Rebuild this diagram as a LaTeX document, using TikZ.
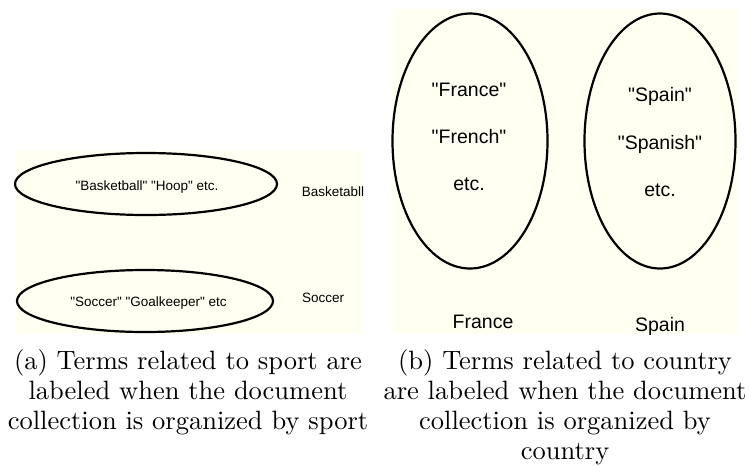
\documentclass[tikz,border=0pt]{standalone}
\usepackage{fontspec}
\newfontfamily\arialf{Liberation Sans}
\usetikzlibrary{shapes.geometric}
\definecolor{bgcream}{RGB}{255,255,242}
\newcommand{\capline}[1]{\scalebox{2.65}{\fontsize{10}{12}\selectfont #1}}
\tikzset{
  oval/.style={ellipse, draw=black, line width=2.2pt, inner sep=0pt},
  smalltxt/.style={font=\arialf\fontsize{13.5}{16}\selectfont, inner sep=0pt, anchor=base},
  bigtxt/.style={font=\arialf\fontsize{19.5}{23}\selectfont, inner sep=0pt, anchor=base},
  captxt/.style={inner sep=0pt, anchor=base},
}
\begin{document}
\begin{tikzpicture}[x=1pt,y=-1pt]
\useasboundingbox (0,0) rectangle (749,472);
% panel backgrounds
\fill[bgcream] (15,151) rectangle (362,334);
\fill[bgcream] (392,9) rectangle (738,334);
% panel (a)
\node[oval, minimum width=262pt, minimum height=62pt] (bask) at (146,184) {};
\node[oval, minimum width=256pt, minimum height=62pt] (socc) at (145,301) {};
\node[smalltxt] (baskt) at (147,190.7) {"Basketball" "Hoop" etc.};
\node[smalltxt] (socct) at (148.5,306.7) {"Soccer" "Goalkeeper" etc};
\node[smalltxt, anchor=base west] (baskl) at (301.7,196) {Basketabll};
\node[smalltxt, anchor=base west] (soccl) at (302,302.7) {Soccer};
% panel (b)
\node[oval, minimum width=155pt, minimum height=255pt] (fra) at (470,141) {};
\node[oval, minimum width=151pt, minimum height=255pt] (spa) at (660,141) {};
\node[bigtxt] (fra1) at (469,96.7) {"France"};
\node[bigtxt] (fra2) at (469,143.3) {"French"};
\node[bigtxt] (fra3) at (469,190) {etc.};
\node[bigtxt] (spa1) at (660,101.7) {"Spain"};
\node[bigtxt] (spa2) at (660,149.3) {"Spanish"};
\node[bigtxt] (spa3) at (660,196.7) {etc.};
\node[bigtxt] (fral) at (483,328) {France};
\node[bigtxt] (spal) at (660,331.7) {Spain};
% captions
\node[captxt] (ca1) at (188,369) {\capline{(a) Terms related to sport are}};
\node[captxt] (ca2) at (188,399) {\capline{labeled when the document}};
\node[captxt] (ca3) at (188,429) {\capline{collection is organized by sport}};
\node[captxt] (cb1) at (565,369) {\capline{(b) Terms related to country}};
\node[captxt] (cb2) at (565,399) {\capline{are labeled when the document}};
\node[captxt] (cb3) at (565,429) {\capline{collection is organized by}};
\node[captxt] (cb4) at (565,459) {\capline{country}};
\end{tikzpicture}
\end{document}
